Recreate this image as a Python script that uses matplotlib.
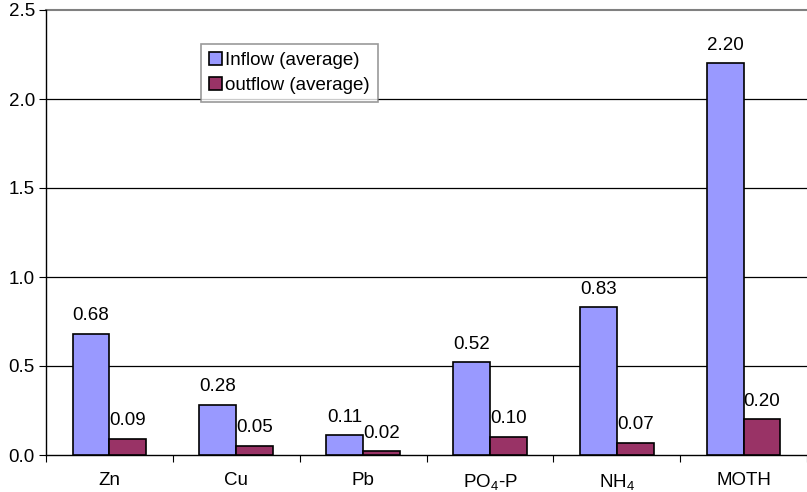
import matplotlib
matplotlib.use("Agg")
import matplotlib.pyplot as plt
import numpy as np

plt.rcParams['font.family'] = ['Liberation Sans', 'DejaVu Sans']
plt.rcParams['mathtext.fontset'] = 'custom'
plt.rcParams['mathtext.rm'] = 'Liberation Sans'
plt.rcParams['mathtext.it'] = 'Liberation Sans'
plt.rcParams['mathtext.default'] = 'regular'

categories = ['Zn', 'Cu', 'Pb', 'PO$_4$-P', 'NH$_4$', 'MOTH']
inflow = [0.68, 0.28, 0.11, 0.52, 0.83, 2.20]
outflow = [0.09, 0.05, 0.02, 0.10, 0.07, 0.20]
series_names = ['Inflow (average)', 'outflow (average)']
yticks = [0.0, 0.5, 1.0, 1.5, 2.0, 2.5]

FS = 13.5
W, H = 807, 492
fig = plt.figure(figsize=(W / 100, H / 100), dpi=100)
ax = fig.add_axes([46 / W, (H - 455) / H, (W - 46) / W, 445 / H])

x = np.arange(len(categories))
bw = 0.29
b1 = ax.bar(x - bw / 2, inflow, bw, color='#9999FF', edgecolor='black', linewidth=1.2,
            label=series_names[0], zorder=3)
b2 = ax.bar(x + bw / 2, outflow, bw, color='#993366', edgecolor='black', linewidth=1.2,
            label=series_names[1], zorder=3)

for bars, vals in ((b1, inflow), (b2, outflow)):
    for r, v in zip(bars, vals):
        ax.annotate(f'{v:.2f}', (r.get_x() + r.get_width() / 2, v), xytext=(0, 7),
                    textcoords='offset points', ha='center', va='bottom', fontsize=FS)

ax.set_xlim(-0.5, len(categories) - 0.5)
ax.set_ylim(0, 2.5)
ax.set_yticks(yticks)
ax.set_yticklabels([f'{t:.1f}' for t in yticks], fontsize=FS)
for t in yticks[1:-1]:
    ax.axhline(t, color='black', linewidth=0.9, zorder=1)
ax.axhline(2.5, color='#808080', linewidth=1.5, zorder=1, clip_on=False)

ax.set_xticks(np.arange(len(categories) + 1) - 0.5)
ax.set_xticklabels([])
ax.set_xticks(x, minor=True)
ax.set_xticklabels(categories, minor=True, fontsize=FS)
ax.tick_params(axis='x', which='minor', length=0, pad=12.5)
ax.tick_params(axis='x', which='major', length=5, direction='out', color='black')
ax.tick_params(axis='y', length=5, direction='out', pad=3)

for s in ('top', 'right'):
    ax.spines[s].set_visible(False)
ax.spines['left'].set_linewidth(1.0)
ax.spines['bottom'].set_linewidth(1.0)

leg = ax.legend(loc='upper left', bbox_to_anchor=((201 - 46) / 761, (455 - 44) / 445),
                fontsize=FS, frameon=True, fancybox=False, edgecolor='#808080',
                handlelength=0.7, handleheight=0.7, handletextpad=0.2,
                borderpad=0.4, labelspacing=0.45, borderaxespad=0)
leg.get_frame().set_linewidth(1.2)

fig.savefig('out.png', dpi=100)
